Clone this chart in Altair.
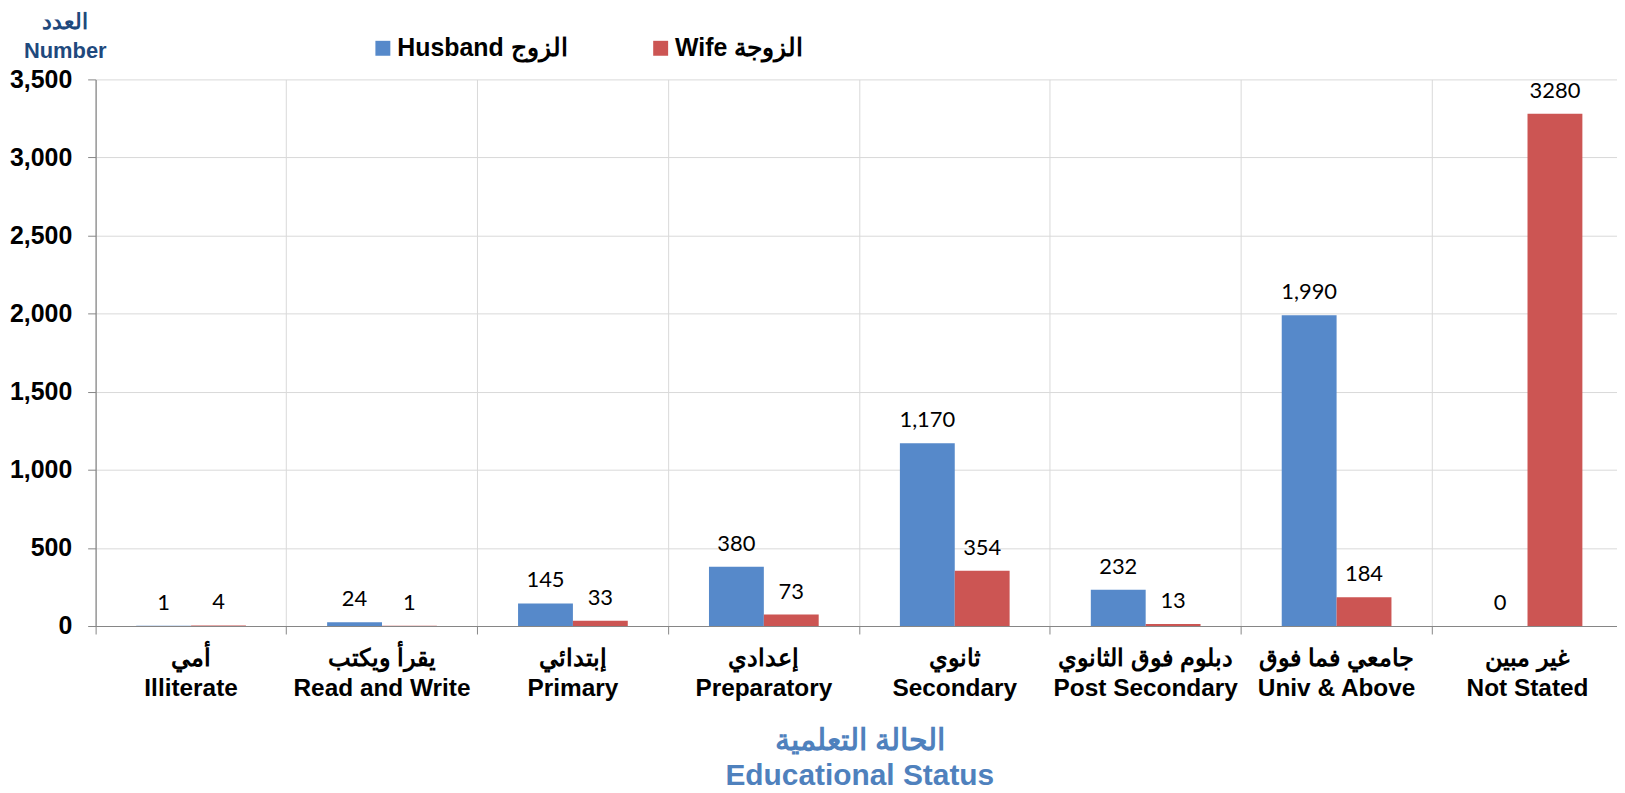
import altair as alt
import pandas as pd

categories = [
    "أمي|Illiterate",
    "يقرأ ويكتب|Read and Write",
    "إبتدائي|Primary",
    "إعدادي|Preparatory",
    "ثانوي|Secondary",
    "دبلوم فوق الثانوي|Post Secondary",
    "جامعي فما فوق|Univ & Above",
    "غير مبين|Not Stated",
]
series = ["Husband الزوج", "Wife الزوجة"]
husband = [1, 24, 145, 380, 1170, 232, 1990, 0]
wife = [4, 1, 33, 73, 354, 13, 184, 3280]
husband_labels = ["1", "24", "145", "380", "1,170", "232", "1,990", "0"]
wife_labels = ["4", "1", "33", "73", "354", "13", "184", "3280"]
y_ticks = [0, 500, 1000, 1500, 2000, 2500, 3000, 3500]

rows = []
for i, c in enumerate(categories):
    rows.append({"cat": c, "series": series[0], "value": husband[i], "label": husband_labels[i]})
    rows.append({"cat": c, "series": series[1], "value": wife[i], "label": wife_labels[i]})
df = pd.DataFrame(rows)

LAB_FONT = "Liberation Sans"

x_enc = alt.X(
    "cat:N",
    sort=categories,
    scale=alt.Scale(paddingInner=0, paddingOuter=0, round=False),
    axis=alt.Axis(
        title=["الحالة التعلمية", "Educational Status"],
        titleFont=LAB_FONT,
        titleFontSize=30,
        titleFontWeight="bold",
        titleColor="#4F81BD",
        titleLineHeight=35,
        titleBaseline="top",
        titleAnchor="middle",
        titleY=100,
        labelExpr="split(datum.label, '|')",
        labelFont=LAB_FONT,
        labelFontSize=24.5,
        labelFontWeight="bold",
        labelColor="#000000",
        labelLineHeight=30,
        labelPadding=13,
        labelLimit=1000,
        labelAngle=0,
        bandPosition=0,
        tickSize=8,
        tickColor="#868686",
        domainColor="#868686",
        domainWidth=1.2,
        grid=True,
        gridColor="#D9D9D9",
        labelBound=False,
        labelOverlap=False,
    ),
)

xoff_enc = alt.XOffset(
    "series:N",
    sort=series,
    scale=alt.Scale(paddingInner=0, paddingOuter=0.74, round=False),
)

y_enc = alt.Y(
    "value:Q",
    scale=alt.Scale(domain=[0, 3500], nice=False),
    axis=alt.Axis(
        values=y_ticks,
        format=",d",
        title=["العدد", "Number"],
        titleAngle=0,
        titleAlign="center",
        titleBaseline="top",
        titleX=-31,
        titleY=-68,
        titleFont=LAB_FONT,
        titleFontSize=22,
        titleFontWeight="bold",
        titleColor="#1F497D",
        titleLineHeight=29,
        labelFont=LAB_FONT,
        labelFontSize=25,
        labelFontWeight="bold",
        labelColor="#000000",
        labelPadding=16,
        tickSize=8,
        tickColor="#868686",
        domainColor="#868686",
        domainWidth=1.2,
        grid=True,
        gridColor="#D9D9D9",
    ),
)

color_enc = alt.Color(
    "series:N",
    sort=series,
    scale=alt.Scale(domain=series, range=["#5689CA", "#CC5553"]),
    legend=alt.Legend(
        title=None,
        orient="none",
        legendX=276,
        legendY=-44,
        direction="horizontal",
        symbolType="square",
        symbolSize=225,
        symbolStrokeWidth=0,
        symbolOpacity=1,
        labelFont=LAB_FONT,
        labelFontSize=25,
        labelFontWeight="bold",
        labelColor="#000000",
        labelOffset=2,
        columnPadding=81,
        labelLimit=400,
    ),
)

bars = alt.Chart(df).mark_bar(opacity=1).encode(
    x=x_enc, xOffset=xoff_enc, y=y_enc, color=color_enc
)

texts = alt.Chart(df).mark_text(
    font="Lato", fontSize=22, color="#000000", dy=-23, baseline="middle"
).encode(
    x=alt.X("cat:N", sort=categories),
    xOffset=alt.XOffset("series:N", sort=series),
    y=alt.Y("value:Q"),
    text="label:N",
)

chart = (
    alt.layer(bars, texts)
    .properties(
        width=1534,
        height=549,
        autosize=alt.AutoSizeParams(type="none"),
        padding={"left": 88, "top": 70, "right": -6, "bottom": 168},
    )
    .configure_view(stroke=None)
)

chart.save("out.html", embed_options={"renderer": "svg", "actions": False})
